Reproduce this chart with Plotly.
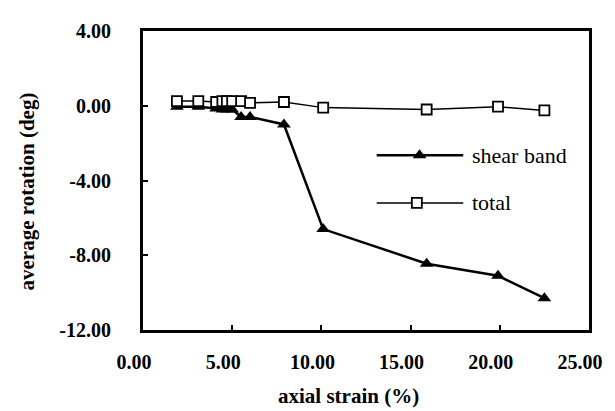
import plotly.graph_objects as go

# axial strain (%)
shear_x = [1.9, 3.1, 4.1, 4.45, 4.7, 5.0, 5.5, 6.0, 7.9, 10.1, 15.9, 19.9, 22.5]
shear_y = [-0.05, -0.05, -0.15, -0.2, -0.2, -0.2, -0.6, -0.6, -1.0, -6.6, -8.45, -9.1, -10.3]
total_x = [1.9, 3.1, 4.1, 4.45, 4.7, 5.0, 5.5, 6.0, 7.9, 10.1, 15.9, 19.9, 22.5]
total_y = [0.25, 0.25, 0.2, 0.25, 0.25, 0.25, 0.25, 0.15, 0.2, -0.1, -0.2, -0.05, -0.25]

x_ticks = [0, 5, 10, 15, 20, 25]
x_tick_labels = ["0.00", "5.00", "10.00", "15.00", "20.00", "25.00"]
y_ticks = [4, 0, -4, -8, -12]
y_tick_labels = ["4.00", "0.00", "-4.00", "-8.00", "-12.00"]

series_names = ["shear band", "total"]

SERIF = "Liberation Serif, Times New Roman, serif"

fig = go.Figure()
fig.add_trace(go.Scatter(
    x=shear_x, y=shear_y, mode="lines+markers", name=series_names[0],
    line=dict(color="black", width=2.5),
    marker=dict(symbol="triangle-up", size=12, color="black"),
    showlegend=False,
))
fig.add_trace(go.Scatter(
    x=total_x, y=total_y, mode="lines+markers", name=series_names[1],
    line=dict(color="black", width=1.5),
    marker=dict(symbol="square", size=10, color="white", line=dict(color="black", width=1.8)),
    showlegend=False,
))

# manual legend samples (data coordinates inside plot)
leg_x0, leg_xm, leg_x1 = 13.1, 15.5, 17.95
leg_y = [-2.65, -5.2]
fig.add_trace(go.Scatter(
    x=[leg_x0, leg_xm, leg_x1], y=[leg_y[0]] * 3, mode="lines",
    line=dict(color="black", width=2.5), showlegend=False, hoverinfo="skip"))
fig.add_trace(go.Scatter(
    x=[leg_xm], y=[leg_y[0]], mode="markers",
    marker=dict(symbol="triangle-up", size=12, color="black"), showlegend=False, hoverinfo="skip"))
fig.add_trace(go.Scatter(
    x=[leg_x0, leg_xm, leg_x1], y=[leg_y[1]] * 3, mode="lines",
    line=dict(color="black", width=1.5), showlegend=False, hoverinfo="skip"))
fig.add_trace(go.Scatter(
    x=[leg_xm - 0.15], y=[leg_y[1]], mode="markers",
    marker=dict(symbol="square", size=10, color="white", line=dict(color="black", width=1.8)),
    showlegend=False, hoverinfo="skip"))

for name, yy in zip(series_names, leg_y):
    fig.add_annotation(x=18.35, y=yy, xref="x", yref="y", text=name, showarrow=False,
                       xanchor="left", yanchor="middle",
                       font=dict(family=SERIF, size=22, color="black"))

# axis titles
fig.add_annotation(x=0.46, y=-0.222, xref="paper", yref="paper", text="<b>axial strain (%)</b>",
                   showarrow=False, xanchor="center", yanchor="middle",
                   font=dict(family=SERIF, size=21, color="black"))
fig.add_annotation(x=-0.261, y=0.462, xref="paper", yref="paper", text="<b>average rotation (deg)</b>",
                   showarrow=False, xanchor="center", yanchor="middle", textangle=-90,
                   font=dict(family=SERIF, size=21, color="black"))

# page body has an 8px default margin, so the figure is sized to fit 615x411 from (8, 8)
fig.update_layout(
    width=607, height=403,
    margin=dict(l=135, r=18, t=14, b=81),
    paper_bgcolor="white", plot_bgcolor="white",
    font=dict(family=SERIF, color="black"),
    xaxis=dict(
        range=[0, 25], tickvals=x_ticks, ticktext=[f"<b>{t}</b>" for t in x_tick_labels],
        showgrid=False, zeroline=False, showline=True, mirror=True, linecolor="black", linewidth=3,
        ticks="inside", ticklen=5, tickwidth=1.5, tickcolor="black",
        tickfont=dict(family=SERIF, size=20, color="black"),
        ticklabelstandoff=12, ticklabelshift=-9,
    ),
    yaxis=dict(
        range=[-12, 4], tickvals=y_ticks, ticktext=[f"<b>{t}</b>" for t in y_tick_labels],
        showgrid=False, zeroline=False, showline=True, mirror=True, linecolor="black", linewidth=3,
        ticks="inside", ticklen=5, tickwidth=1.5, tickcolor="black",
        tickfont=dict(family=SERIF, size=20, color="black"),
        ticklabelstandoff=25,
    ),
)

fig.write_html("out.html")
